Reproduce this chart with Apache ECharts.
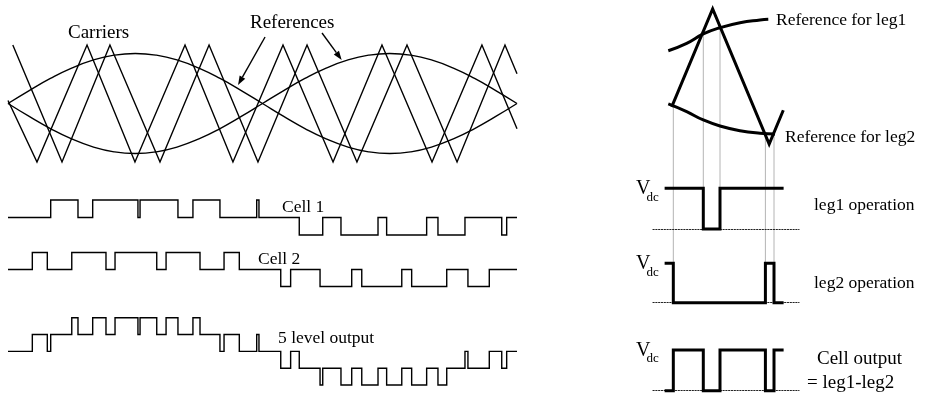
<!DOCTYPE html>
<html>
<head>
<meta charset="utf-8">
<script src="https://cdn.jsdelivr.net/npm/echarts/dist/echarts.min.js"></script>
<style>
  html, body { margin: 0; padding: 0; background: #fff; }
  #main { width: 934px; height: 395px; }
</style>
</head>
<body>
<div id="main"></div>
<script>
// ---------- Left: phase-shifted PWM over one fundamental period (angle, degrees) ----------
const refAngles = [0, 15, 30, 45, 60, 75, 90, 105, 120, 135, 150, 165, 180,
                   195, 210, 225, 240, 255, 270, 285, 300, 315, 330, 345, 360];
const refLeg1 = [0, 0.221, 0.428, 0.605, 0.741, 0.826, 0.855, 0.826, 0.741, 0.605, 0.428, 0.221, 0,
                 -0.221, -0.428, -0.605, -0.741, -0.826, -0.855, -0.826, -0.741, -0.605, -0.428, -0.221, 0];
const refLeg2 = [0, -0.221, -0.428, -0.605, -0.741, -0.826, -0.855, -0.826, -0.741, -0.605, -0.428, -0.221, 0,
                 0.221, 0.428, 0.605, 0.741, 0.826, 0.855, 0.826, 0.741, 0.605, 0.428, 0.221, 0];

// carrier of cell 1 and carrier of cell 2 (shifted by a quarter period): vertices
const carrier1Angles = [0, 20.5, 55.9, 89.8, 125.2, 159.1, 194.5, 229.9, 264.5, 299.9, 335.2, 360];
const carrier1Values = [0.05, -1, 1, -1, 1, -1, 1, -1, 1, -1, 1, -0.43];
const carrier2Angles = [3.4, 38.2, 72.1, 107.5, 142.2, 176.8, 211.5, 246.8, 282.2, 317.6, 351.5, 360];
const carrier2Values = [1, -1, 1, -1, 1, -1, 1, -1, 1, -1, 1, 0.51];

// cell output pulses: [start angle, end angle, level]
const cell1Pulses = [
  [30.2, 49.5, 1], [59.9, 91.9, 1], [93.4, 120.2, 1], [130.8, 149.9, 1], [175.9, 177.5, 1],
  [206.0, 222.6, -1], [235.5, 261.7, -1], [267.8, 296.1, -1], [304.1, 323.2, -1], [349.2, 352.7, -1]
];
const cell2Pulses = [
  [17.2, 27.8, 1], [45.1, 69.3, 1], [75.7, 105.2, 1], [111.8, 135.8, 1], [152.8, 163.6, 1],
  [192.9, 199.9, -1], [220.7, 243.1, -1], [250.2, 278.5, -1], [285.5, 310.3, -1], [325.3, 340.4, -1]
];

// ---------- Right: one carrier period of a single H-bridge cell (carrier phase, degrees) ----------
const triAngles = [-40.4, 90, 270, 315];
const triValues = [-0.449, 1, -1, -0.5];
const refR1Angles = [-51.3, 7.3, 60.2, 113.4, 177.1, 240.8, 267.2];
const refR1Values = [0.382, 0.492, 0.630, 0.723, 0.797, 0.837, 0.847];
const refR2Angles = [-51.3, 7.3, 60.2, 113.4, 177.1, 240.8, 288.6];
const refR2Values = [-0.407, -0.521, -0.644, -0.733, -0.803, -0.841, -0.852];
const leg1Switches = [60.2, 113.4];
const leg2Switches = [-35.3, 258, 285.4];
const legSpan = [-63, 316];

// ---------- helpers ----------
const zip = (xs, ys) => xs.map((x, i) => [x, ys[i]]);
const pulseLevel = pulses => t => {
  for (const p of pulses) if (t > p[0] && t < p[1]) return p[2];
  return 0;
};
const pulseEdges = pulses => pulses.flatMap(p => [p[0], p[1]]);
const toggleLevel = switches => t => (switches.filter(s => s < t).length % 2 === 0 ? 1 : 0);
function stepPoints(edges, levelAt, t0, t1) {
  const pts = [[t0, levelAt(t0 + 1e-6)]];
  [...new Set(edges)].sort((a, b) => a - b).forEach(t => {
    pts.push([t, levelAt(t - 1e-6)], [t, levelAt(t + 1e-6)]);
  });
  pts.push([t1, levelAt(t1 - 1e-6)]);
  return pts;
}
function interp(xs, ys, t) {
  for (let i = 1; i < xs.length; i++) {
    if (t <= xs[i]) return ys[i - 1] + (ys[i] - ys[i - 1]) * (t - xs[i - 1]) / (xs[i] - xs[i - 1]);
  }
  return ys[ys.length - 1];
}

const cell1At = pulseLevel(cell1Pulses);
const cell2At = pulseLevel(cell2Pulses);
const sumAt = t => cell1At(t) + cell2At(t);
const leg1At = toggleLevel(leg1Switches);
const leg2At = toggleLevel(leg2Switches);
const diffAt = t => leg1At(t) - leg2At(t);

// ---------- layout ----------
const LEFT = { left: 8, width: 509 };
const RIGHT = { left: 653, width: 146 };
const grids = [
  Object.assign({ top: 45, height: 117 }, LEFT),     // carriers + references
  Object.assign({ top: 200, height: 35 }, LEFT),     // cell 1
  Object.assign({ top: 252.5, height: 34 }, LEFT),   // cell 2
  Object.assign({ top: 317.7, height: 67.3 }, LEFT), // 5 level output
  Object.assign({ top: 9, height: 135 }, RIGHT),     // carrier + leg references
  Object.assign({ top: 188.3, height: 40.7 }, RIGHT),// leg1
  Object.assign({ top: 263.3, height: 39.4 }, RIGHT),// leg2
  Object.assign({ top: 350, height: 40.7 }, RIGHT)   // cell output
];
const yRanges = [[-1, 1], [-1, 1], [-1, 1], [-2, 2], [-1, 1], [0, 1], [0, 1], [0, 1]];
const dotted = { show: true, onZero: false, lineStyle: { color: '#222', width: 1.2, type: [1.2, 1.6] } };

const xAxes = grids.map((g, i) => ({
  type: 'value', gridIndex: i,
  min: i < 4 ? 0 : -100, max: i < 4 ? 360 : 365,
  show: i >= 5,
  axisLine: i >= 5 ? dotted : { show: false },
  axisTick: { show: false }, axisLabel: { show: false }, splitLine: { show: false }
}));
const yAxes = grids.map((g, i) => ({
  type: 'value', gridIndex: i, min: yRanges[i][0], max: yRanges[i][1], show: false
}));

const INK = '#000';
function trace(data, gi, width, extra) {
  return Object.assign({
    type: 'line', data, xAxisIndex: gi, yAxisIndex: gi,
    symbol: 'none', silent: true, animation: false, clip: false,
    lineStyle: { color: INK, width, join: 'miter', cap: 'butt' }
  }, extra || {});
}

const series = [
  trace(zip(refAngles, refLeg1), 0, 1.4, { smooth: true }),
  trace(zip(refAngles, refLeg2), 0, 1.4, { smooth: true }),
  trace(zip(carrier1Angles, carrier1Values), 0, 1.4),
  trace(zip(carrier2Angles, carrier2Values), 0, 1.4),
  trace(stepPoints(pulseEdges(cell1Pulses), cell1At, 0, 360), 1, 1.4),
  trace(stepPoints(pulseEdges(cell2Pulses), cell2At, 0, 360), 2, 1.4),
  trace(stepPoints(pulseEdges(cell1Pulses).concat(pulseEdges(cell2Pulses)), sumAt, 0, 360), 3, 1.4),
  trace(zip(triAngles, triValues), 4, 3),
  trace(zip(refR1Angles, refR1Values), 4, 3, { smooth: true }),
  trace(zip(refR2Angles, refR2Values), 4, 3, { smooth: true }),
  trace(stepPoints(leg1Switches, leg1At, legSpan[0], legSpan[1]), 5, 3),
  trace(stepPoints(leg2Switches, leg2At, legSpan[0], legSpan[1]), 6, 3),
  trace(stepPoints(leg1Switches.concat(leg2Switches), diffAt, legSpan[0], legSpan[1]), 7, 3)
];

const chart = echarts.init(document.getElementById('main'), null, { renderer: 'canvas' });
chart.setOption({
  animation: false,
  backgroundColor: '#fff',
  grid: grids.map(g => Object.assign({ containLabel: false }, g)),
  xAxis: xAxes, yAxis: yAxes, series
});

// ---------- annotations placed through the axes ----------
const px = (g, p) => chart.convertToPixel({ gridIndex: g }, p);
const SERIF = '"Liberation Serif", "Times New Roman", serif';
function label(text, x, y, size, align) {
  return {
    type: 'text', z: 10, silent: true,
    style: {
      text, x, y, fill: '#000', font: size + 'px ' + SERIF,
      textAlign: align || 'left', align: align || 'left',
      textVerticalAlign: 'middle', verticalAlign: 'middle'
    }
  };
}
function arrow(from, to) {
  const dx = to[0] - from[0], dy = to[1] - from[1];
  const len = Math.hypot(dx, dy), ux = dx / len, uy = dy / len;
  const hl = 9, hw = 3.2;
  const bx = to[0] - ux * hl, by = to[1] - uy * hl;
  return [
    { type: 'line', silent: true, z: 5,
      shape: { x1: from[0], y1: from[1], x2: bx, y2: by },
      style: { stroke: INK, lineWidth: 1.4 } },
    { type: 'polygon', silent: true, z: 5,
      shape: { points: [to, [bx - uy * hw, by + ux * hw], [bx + uy * hw, by - ux * hw]] },
      style: { fill: INK } }
  ];
}
function connector(t, legGrid) {
  const a = px(4, [t, interp(triAngles, triValues, t)]);
  const b = px(legGrid, [t, 1]);
  return { type: 'line', silent: true, z: 0,
    shape: { x1: a[0], y1: a[1], x2: b[0], y2: b[1] },
    style: { stroke: '#b4b4b4', lineWidth: 1 } };
}
function vdc(g) {
  const p = px(g, [-100, 1]);
  return [
    label('V', p[0] - 17, p[1] + 0.5, 20),
    label('dc', p[0] - 6.5, p[1] + 9, 13)
  ];
}

const elements = [
  label('Carriers', 68, 33, 19),
  label('References', 250, 23.5, 19),
  ...arrow(px(0, [181.8, 1.137]), px(0, [162.7, 0.316])),
  ...arrow(px(0, [222.1, 1.205]), px(0, [236.0, 0.744])),
  label('Cell 1', 282, 207, 17.5),
  label('Cell 2', 258, 259, 17.5),
  label('5 level output', 278, 338, 17.5),
  ...leg1Switches.map(t => connector(t, 5)),
  ...leg2Switches.map(t => connector(t, 6)),
  label('Reference for leg1', 776, 20, 17.5),
  label('Reference for leg2', 785, 137, 17.5),
  label('leg1 operation', 814, 205.5, 17.5),
  label('leg2 operation', 814, 283, 17.5),
  label('Cell output', 817, 359, 19),
  label('= leg1-leg2', 807, 383, 19),
  ...vdc(5), ...vdc(6), ...vdc(7)
];
chart.setOption({ graphic: { elements } });
</script>
</body>
</html>
